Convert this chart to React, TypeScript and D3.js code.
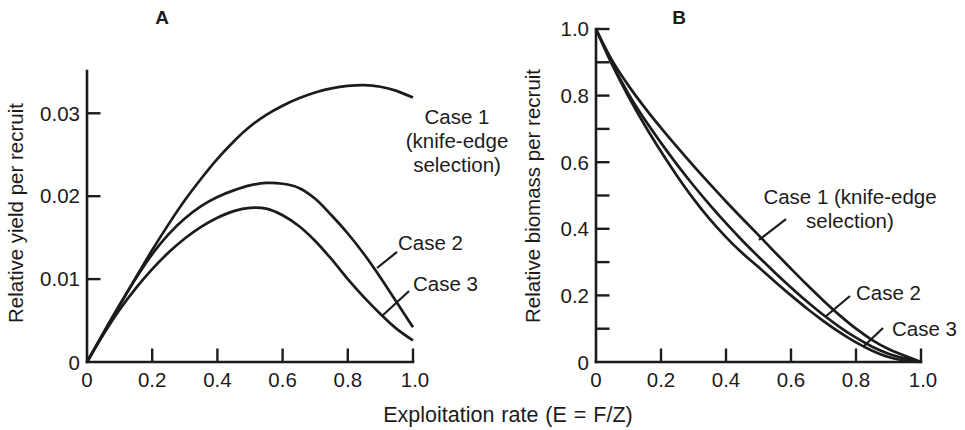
import React from "react";
import * as d3 from "d3";

// ---- Data ----
const E = [0, 0.05, 0.1, 0.15, 0.2, 0.25, 0.3, 0.35, 0.4, 0.45, 0.5, 0.55, 0.6, 0.65, 0.7, 0.75, 0.8, 0.85, 0.9, 0.95, 1.0];

// Panel A: relative yield per recruit
const yieldCase1 = [0, 0.0034, 0.0068, 0.0102, 0.0135, 0.0166, 0.0195, 0.0221, 0.0245, 0.0266, 0.0284, 0.0298, 0.0309, 0.0318, 0.0325, 0.033, 0.0333, 0.0334, 0.0332, 0.0327, 0.0319];
const yieldCase2 = [0, 0.0035, 0.0069, 0.0101, 0.013, 0.0154, 0.0173, 0.0188, 0.0199, 0.0207, 0.0213, 0.0216, 0.0215, 0.021, 0.0197, 0.0177, 0.0155, 0.013, 0.0102, 0.0072, 0.0042];
const yieldCase3 = [0, 0.0033, 0.0063, 0.0089, 0.0112, 0.0132, 0.0149, 0.0163, 0.0174, 0.0182, 0.0186, 0.0185, 0.0177, 0.0164, 0.0146, 0.0124, 0.01, 0.0078, 0.0058, 0.004, 0.0026];

// Panel B: relative biomass per recruit
const biomassCase1 = [1.0, 0.905, 0.83, 0.764, 0.703, 0.645, 0.589, 0.535, 0.482, 0.431, 0.381, 0.33, 0.28, 0.231, 0.184, 0.14, 0.1, 0.066, 0.039, 0.019, 0];
const biomassCase2 = [1.0, 0.895, 0.805, 0.728, 0.658, 0.592, 0.53, 0.472, 0.417, 0.365, 0.316, 0.269, 0.224, 0.181, 0.141, 0.105, 0.073, 0.046, 0.025, 0.011, 0];
const biomassCase3 = [1.0, 0.892, 0.797, 0.711, 0.632, 0.558, 0.49, 0.429, 0.375, 0.327, 0.285, 0.242, 0.2, 0.16, 0.123, 0.089, 0.059, 0.034, 0.015, 0.004, 0];

const xTicks = [0, 0.2, 0.4, 0.6, 0.8, 1.0];
const xTickLabels = ["0", "0.2", "0.4", "0.6", "0.8", "1.0"];
const yTicksA = [0, 0.01, 0.02, 0.03];
const yTickLabelsA = ["0", "0.01", "0.02", "0.03"];
const yTicksB = [0, 0.1, 0.2, 0.3, 0.4, 0.5, 0.6, 0.7, 0.8, 0.9, 1.0];
const yTickLabelsB = ["0", "", "0.2", "", "0.4", "", "0.6", "", "0.8", "", "1.0"];

const INK = "#1d1b1c";
const FONT = "'Liberation Sans', Arial, Helvetica, sans-serif";
const FS = 20.5;

type Ann = { text: string[]; x: number; y: number; anchor: string; leader: [number, number, number, number] | null };

const annA: Ann[] = [
  { text: ["Case 1", "(knife-edge", "selection)"], x: 1.135, y: 0.02865, anchor: "middle", leader: null },
  { text: ["Case 2"], x: 0.954, y: 0.01345, anchor: "start", leader: [0.8896, 0.01134, 0.951, 0.01327] },
  { text: ["Case 3"], x: 1.0, y: 0.00862, anchor: "start", leader: [0.905, 0.00555, 0.988, 0.00856] },
];
const annB: Ann[] = [
  { text: ["Case 1 (knife-edge", "selection)"], x: 0.7815, y: 0.473, anchor: "middle", leader: [0.5015, 0.3664, 0.5846, 0.4294] },
  { text: ["Case 2"], x: 0.8, y: 0.1847, anchor: "start", leader: [0.7046, 0.1351, 0.7815, 0.1982] },
  { text: ["Case 3"], x: 0.911, y: 0.0766, anchor: "start", leader: [0.8215, 0.045, 0.8831, 0.1021] },
];

function Panel(props: {
  x0: number; x1: number; y0: number; yTop: number; yMax: number;
  series: number[][]; yTicks: number[]; yLabels: string[];
  title: string; titleX: number; ylabel: string; ylabelX: number; ylabelY: number;
  ann: Ann[];
}) {
  const { x0, x1, y0, yTop, yMax, series, yTicks, yLabels, title, titleX, ylabel, ylabelX, ylabelY, ann } = props;
  const xs = d3.scaleLinear().domain([0, 1]).range([x0, x1]);
  const ys = d3.scaleLinear().domain([0, yMax]).range([y0, yTop]);
  const line = d3.line<[number, number]>().x((d) => xs(d[0])).y((d) => ys(d[1])).curve(d3.curveCatmullRom.alpha(0.5));
  const tickLen = 13.5;
  return (
    <g>
      <text x={titleX} y={24} textAnchor="middle" fontFamily={FONT} fontWeight="bold" fontSize={19} fill={INK}>{title}</text>
      <line x1={xs(0)} x2={xs(1)} y1={y0} y2={y0} stroke={INK} strokeWidth={2.6} strokeLinecap="square" />
      <line x1={x0} x2={x0} y1={y0} y2={yTop} stroke={INK} strokeWidth={2.6} strokeLinecap="square" />
      {xTicks.map((t, i) => (
        <g key={"xt" + i}>
          {t > 0 && <line x1={xs(t)} x2={xs(t)} y1={y0} y2={y0 - tickLen} stroke={INK} strokeWidth={2.4} />}
          <text x={xs(t) + (t === 1 ? 2 : 0)} y={y0 + 24.5} textAnchor="middle" fontFamily={FONT} fontSize={FS} fill={INK}>{xTickLabels[i]}</text>
        </g>
      ))}
      {yTicks.map((t, i) => (
        <g key={"yt" + i}>
          {t > 0 && <line x1={x0} x2={x0 + tickLen} y1={ys(t)} y2={ys(t)} stroke={INK} strokeWidth={2.4} />}
          {yLabels[i] && (
            <text x={x0 - 7} y={ys(t) + (t === 0 ? 8 : 7.3)} textAnchor="end" fontFamily={FONT} fontSize={FS} fill={INK}>{yLabels[i]}</text>
          )}
        </g>
      ))}
      <text transform={`translate(${ylabelX},${ylabelY}) rotate(-90)`} textAnchor="middle" fontFamily={FONT} fontSize={FS} fill={INK} dy="0.36em">{ylabel}</text>
      {series.map((s, k) => {
        const pts: [number, number][] = E.map((e, i) => [e, s[i]]);
        return <path key={"s" + k} d={line(pts) || ""} fill="none" stroke={INK} strokeWidth={2.7} strokeLinejoin="round" />;
      })}
      {ann.map((a, k) => (
        <g key={"a" + k}>
          {a.leader && (
            <line x1={xs(a.leader[0])} y1={ys(a.leader[1])} x2={xs(a.leader[2])} y2={ys(a.leader[3])} stroke={INK} strokeWidth={2.2} />
          )}
          <text x={xs(a.x)} y={ys(a.y)} textAnchor={a.anchor} fontFamily={FONT} fontSize={FS} fill={INK}>
            {a.text.map((t, j) => (
              <tspan key={j} x={xs(a.x)} dy={j === 0 ? 0 : 24}>{t}</tspan>
            ))}
          </text>
        </g>
      ))}
    </g>
  );
}

export default function App() {
  return (
    <svg width={965} height={430} viewBox="0 0 965 430" style={{ position: "absolute", left: 0, top: 0, background: "#fff" }}>
      <rect width={965} height={430} fill="#fff" />
      <Panel
        x0={87} x1={413} y0={362} yTop={71} yMax={0.0351}
        series={[yieldCase1, yieldCase2, yieldCase3]}
        yTicks={yTicksA} yLabels={yTickLabelsA}
        title="A" titleX={162} ylabel="Relative yield per recruit" ylabelX={16} ylabelY={213}
        ann={annA}
      />
      <Panel
        x0={596} x1={921} y0={362} yTop={29} yMax={1.0}
        series={[biomassCase1, biomassCase2, biomassCase3]}
        yTicks={yTicksB} yLabels={yTickLabelsB}
        title="B" titleX={679} ylabel="Relative biomass per recruit" ylabelX={533} ylabelY={196}
        ann={annB}
      />
      <text x={508} y={422} textAnchor="middle" fontFamily={FONT} fontSize={21.5} wordSpacing={1} fill={INK}>Exploitation rate (E = F/Z)</text>
    </svg>
  );
}
